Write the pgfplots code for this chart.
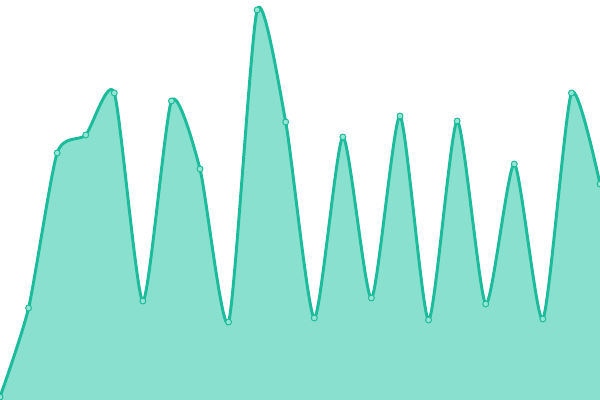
\documentclass[border=0pt]{standalone}
\usepackage{pgfplots}
\pgfplotsset{compat=1.18}
\definecolor{lineC}{RGB}{28,187,155}
\definecolor{areaC}{RGB}{138,224,207}
\definecolor{markC}{RGB}{150,228,212}
\begin{document}
\begin{tikzpicture}
\begin{axis}[
  scale only axis, width=15cm, height=10cm,
  xmin=0, xmax=21, ymin=0, ymax=400,
  hide axis, clip=true, clip marker paths=true,
]
\addplot[draw=none, fill=areaC, smooth, tension=0.38] coordinates {
(0,3) (1,92) (2,247) (3,265) (4,307) (5,99) (6,299) (7,231) (8,78) (9,390) (10,278) (11,82) (12,263) (13,102) (14,284) (15,80) (16,279) (17,96) (18,236) (19,81) (20,307) (21,216)
} \closedcycle;
\addplot[lineC, line width=2.1pt, smooth, tension=0.38,
  mark=*, mark size=2.1pt, mark options={fill=markC, draw=lineC, line width=0.7pt}] coordinates {
(0,3) (1,92) (2,247) (3,265) (4,307) (5,99) (6,299) (7,231) (8,78) (9,390) (10,278) (11,82) (12,263) (13,102) (14,284) (15,80) (16,279) (17,96) (18,236) (19,81) (20,307) (21,216)
};
\end{axis}
\pgfresetboundingbox
\path[use as bounding box] (current axis.south west) rectangle (current axis.north east);
\end{tikzpicture}
\end{document}
